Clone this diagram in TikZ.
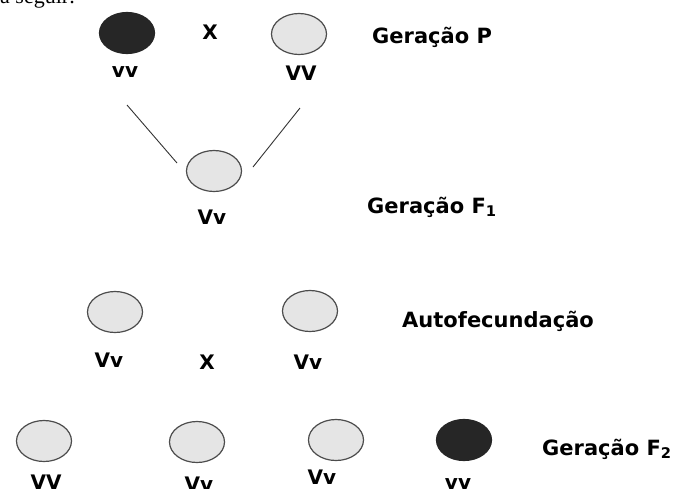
\documentclass[tikz,border=0pt]{standalone}
\usepackage{fontspec}
\setmainfont{DejaVu Sans}
\newfontfamily\seriffont{Liberation Serif}
\usepackage{tikz}
\usetikzlibrary{shapes, positioning}

\begin{document}
\begin{tikzpicture}[x=1pt, y=-1pt,
 light/.style = {ellipse, draw=black!70, line width=1.2pt, fill=black!10, minimum width=55pt, minimum height=41pt, inner sep=0pt},
 dark/.style = {ellipse, draw=black!85, line width=1.2pt, fill=black!85, minimum width=55pt, minimum height=41pt, inner sep=0pt},
 geno/.style = {font=\bfseries\fontsize{20}{20}\selectfont, inner sep=0pt},
 gen/.style = {font=\bfseries\fontsize{21}{21}\selectfont, anchor=base west, inner sep=0pt}]

\useasboundingbox (0,0) rectangle (683,488);
\clip (0,0) rectangle (683,488);

\node[anchor=base west, inner sep=0pt, font=\seriffont\fontsize{22}{22}\selectfont] (top) at (0,3) {a seguir:};

% generation P
\node[dark] (p1) at (127,33) {};
\node[light] (p2) at (299,34) {};
\node[geno] (p1g) at (125,72) {vv};
\node[geno] (p2g) at (301,73) {VV};
\node[geno] (px) at (210,32) {X};
\node[gen] (lp) at (372,43) {Geração P};

% generation F1
\node[light] (f1) at (214,171) {};
\node[geno] (f1g) at (212,217) {Vv};
\node[gen] (lf1) at (367,213) {Geração F\textsubscript{1}};

\coordinate (la) at (127,105);
\coordinate (lb) at (177,163);
\coordinate (ra) at (300,108);
\coordinate (rb) at (253,167);

\draw[line width=0.9pt, black!80]
 (la) edge (lb)
 (ra) edge (rb)
;

% self-fertilisation
\node[light] (a1) at (115,312) {};
\node[light] (a2) at (310,311) {};
\node[geno] (a1g) at (109,360) {Vv};
\node[geno] (ax) at (207,362) {X};
\node[geno] (a2g) at (308,362) {Vv};
\node[gen] (la2) at (402,327) {Autofecundação};

% generation F2
\node[light] (q1) at (44,441) {};
\node[light] (q2) at (197,442) {};
\node[light] (q3) at (336,440) {};
\node[dark] (q4) at (464,440) {};
\node[geno, anchor=north] (q1g) at (46,475) {VV};
\node[geno, anchor=north] (q2g) at (199,477) {Vv};
\node[geno, anchor=north] (q3g) at (322,470) {Vv};
\node[geno, anchor=north] (q4g) at (458,478) {vv};
\node[gen] (lf2) at (542,455) {Geração F\textsubscript{2}};

\end{tikzpicture}
\end{document}
